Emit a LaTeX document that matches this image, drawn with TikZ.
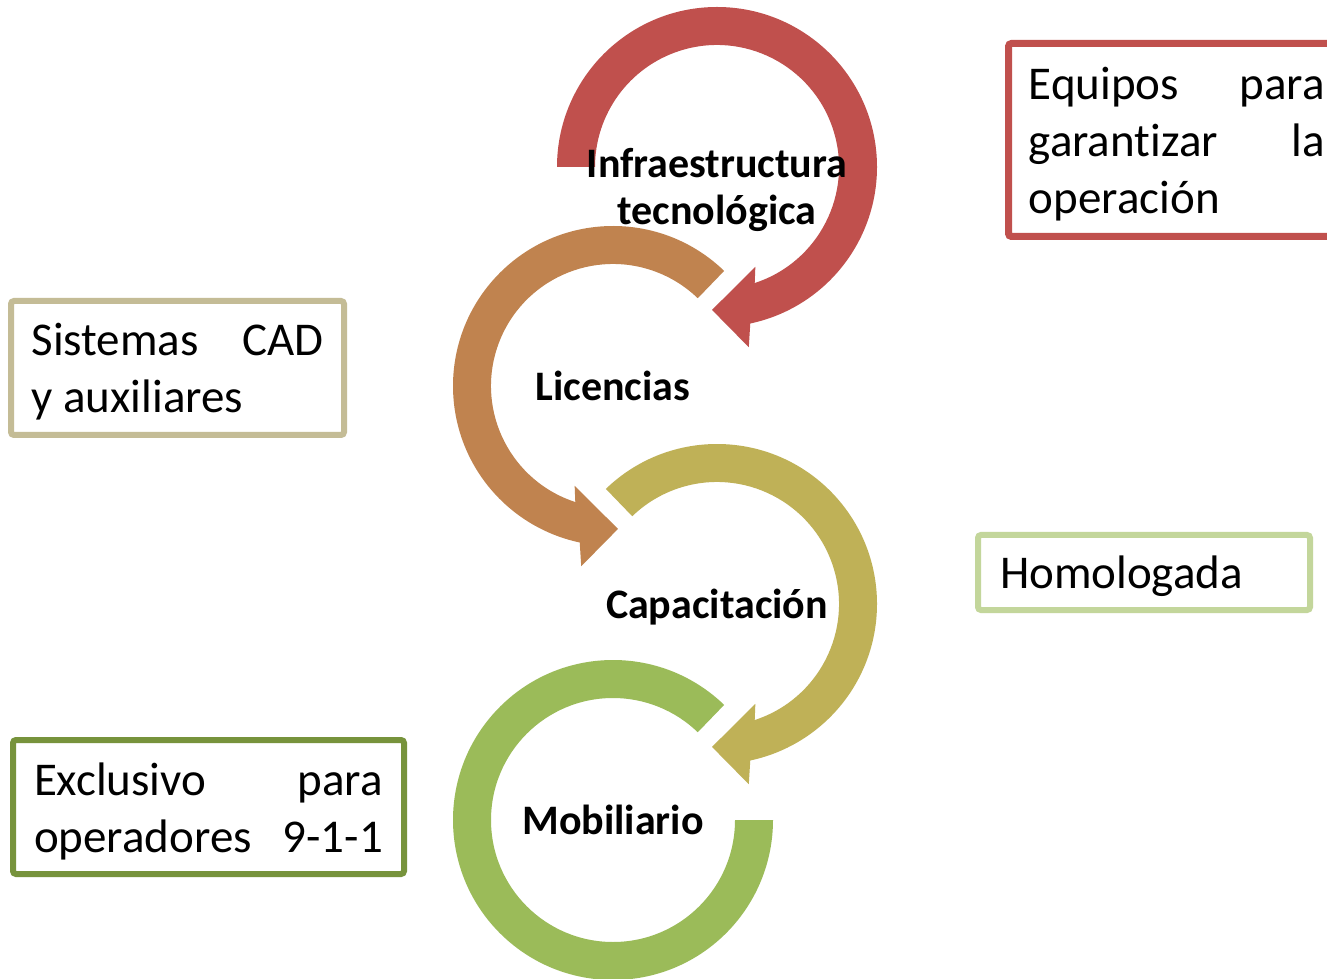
\documentclass[tikz,border=0pt]{standalone}
\usepackage{fontspec}
\setmainfont{Carlito}[Ligatures=NoCommon]
\usetikzlibrary{positioning}
\definecolor{ringred}{HTML}{C0504D}
\definecolor{ringbrown}{HTML}{C0834F}
\definecolor{ringolive}{HTML}{BFB157}
\definecolor{ringgreen}{HTML}{9BBB59}
\definecolor{boxtan}{HTML}{C4BC96}
\definecolor{boxlightgreen}{HTML}{C3D69B}
\definecolor{boxdarkgreen}{HTML}{77933C}
% ring with a head, drawn clockwise; [-1] mirrors it
\newcommand*{\ringarrow}[4][1]{%
  \begin{scope}[shift={(#2)},xscale=#1]
    \fill[#4] (#3:160) arc[start angle=#3,end angle=-78,radius=160]
      -- (-80:183) -- (-92:143) -- (-69:107) -- (-72:122)
      arc[start angle=-72,end angle=#3,radius=122] -- cycle;
  \end{scope}
}
% box text, set a little low in its frame
\newcommand*{\boxtext}[2]{\parbox{#1}{\vspace*{8pt}#2}}

\begin{document}
\begin{tikzpicture}[x=1pt,y=1pt,
  ringlabel/.style = {font=\bfseries\fontsize{42}{47}\selectfont,
                      align=center, inner sep=0pt},
  notebox/.style   = {draw, line width=6pt, rounded corners=3pt,
                      inner sep=0pt, font=\fontsize{47}{57}\selectfont}]
  \clip (0,0) rectangle (1327,978);
  \fill[white] (0,0) rectangle (1327,978);

  \coordinate (c1) at (717,811);
  \coordinate (c2) at (613,592);
  \coordinate (c3) at (717,374);
  \coordinate (c4) at (613,158);

  \ringarrow{c1}{180}{ringred}
  \ringarrow[-1]{c2}{134}{ringbrown}
  \ringarrow{c3}{134}{ringolive}
  \begin{scope}[shift={(c4)}]
    \fill[ringgreen] (46:160) arc[start angle=46,end angle=360,radius=160]
      -- (0:122) arc[start angle=360,end angle=46,radius=122] -- cycle;
  \end{scope}

  \node[ringlabel] (infra) at (717,788) {Infraestructura\\tecnológica};
  \node[ringlabel] (licen) at (613,592) {Licencias};
  \node[ringlabel] (capac) at (717,371) {Capacitación};
  \node[ringlabel] (mobil) at (613,158) {Mobiliario};

  \node[notebox, draw=ringred, line width=7pt, minimum width=336.5,
        minimum height=193] (equipos) at (1176.75,838)
    {\boxtext{296pt}{Equipos\hfill para\\garantizar\hfill la\\operación}};
  \node[notebox, draw=boxtan, minimum width=333, minimum height=134]
    (sistemas) at (177.5,610)
    {\boxtext{292pt}{Sistemas\hfill CAD\\y auxiliares}};
  \node[notebox, draw=boxlightgreen, minimum width=332, minimum height=75]
    (homolog) at (1144,405.5)
    {\boxtext{288pt}{Homologada}};
  \node[notebox, draw=boxdarkgreen, minimum width=391, minimum height=134]
    (exclus) at (208.5,171)
    {\boxtext{349pt}{Exclusivo\hfill para\\operadores\hfill 9-1-1}};
\end{tikzpicture}
\end{document}
